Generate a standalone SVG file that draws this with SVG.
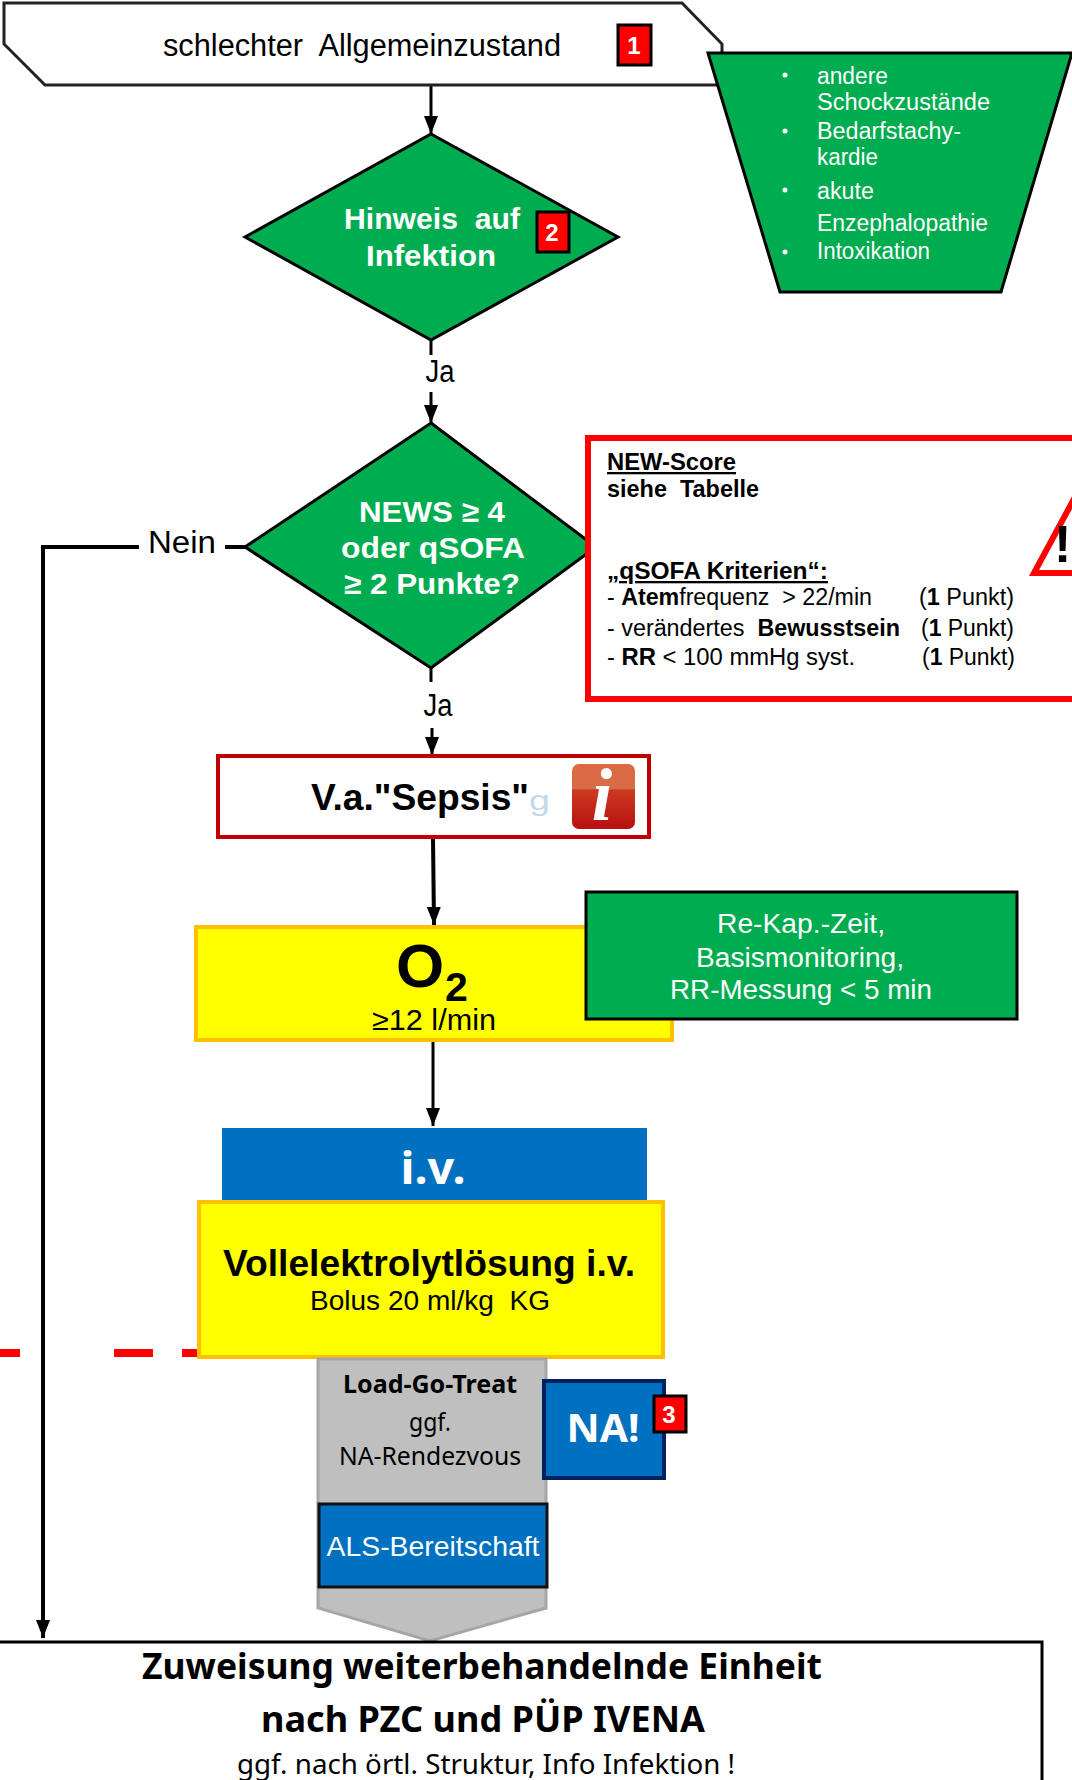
<svg xmlns="http://www.w3.org/2000/svg" width="1072" height="1780" viewBox="0 0 1072 1780">
<style>
text{font-family:"Liberation Sans",Arial,sans-serif;fill:#000}
.m{text-anchor:middle}
.b{font-weight:700}
.w{fill:#fff}
.c{font-family:"Noto Sans","Open Sans",sans-serif}
.green{fill:#00ac50;stroke:#000;stroke-width:3}
.badge{fill:#f00;stroke:#000;stroke-width:3}
.yellow{fill:#ff0;stroke:#ffc000;stroke-width:4}
.flow{fill:none;stroke:#000;stroke-width:3}
.flow4{fill:none;stroke:#000;stroke-width:4}
</style>
<defs>
<marker id="ah" markerUnits="userSpaceOnUse" markerWidth="20" markerHeight="16" refX="18" refY="8" orient="auto"><path d="M0 1L18 8L0 15Z" fill="#000"/></marker>
<linearGradient id="ig" x1="0" y1="0" x2="0" y2="1"><stop offset="0" stop-color="#db6a42"/><stop offset=".38" stop-color="#d96c48"/><stop offset=".4" stop-color="#cc3a20"/><stop offset="1" stop-color="#b81010"/></linearGradient>
</defs>

<g id="connectors">
<path class="flow" d="M431 85V134" marker-end="url(#ah)"/>
<path class="flow" d="M431 340V355"/>
<path class="flow" d="M431 392V423" marker-end="url(#ah)"/>
<path class="flow" d="M431 668V682"/>
<path class="flow" d="M432 728V755" marker-end="url(#ah)"/>
<path class="flow4" d="M433 838L434 925" marker-end="url(#ah)"/>
<path class="flow" d="M433 1041V1126" marker-end="url(#ah)"/>
<path class="flow4" d="M245 547H225M139 547H43V1638" marker-end="url(#ah)"/>
<path d="M0 1353H199" fill="none" stroke="#f00" stroke-width="8" stroke-dasharray="20 94 39 29 17 20"/>
</g>

<g id="n-start">
<path d="M4 3H682L722 44V85H45L4 44Z" fill="#fff" stroke="#222" stroke-width="3"/>
<text class="m" x="362" y="56" font-size="31" textLength="398" lengthAdjust="spacingAndGlyphs">schlechter&#160; Allgemeinzustand</text>
<rect class="badge" x="618" y="25" width="33" height="40"/>
<text class="m b w" x="634" y="54" font-size="24">1</text>
</g>

<g id="n-others">
<path class="green" d="M708 53H1072L1001 292H780Z"/>
<g font-size="23">
<circle cx="785" cy="75" r="2.5" fill="#fff"/><circle cx="785" cy="131" r="2.5" fill="#fff"/><circle cx="785" cy="190" r="2.5" fill="#fff"/><circle cx="785" cy="252" r="2.5" fill="#fff"/>
<text class="w" x="817" y="84" textLength="71" lengthAdjust="spacingAndGlyphs">andere</text>
<text class="w" x="817" y="110" textLength="173" lengthAdjust="spacingAndGlyphs">Schockzustände</text>
<text class="w" x="817" y="139" textLength="144" lengthAdjust="spacingAndGlyphs">Bedarfstachy-</text>
<text class="w" x="817" y="165" textLength="61" lengthAdjust="spacingAndGlyphs">kardie</text>
<text class="w" x="817" y="199" textLength="57" lengthAdjust="spacingAndGlyphs">akute</text>
<text class="w" x="817" y="231" textLength="171" lengthAdjust="spacingAndGlyphs">Enzephalopathie</text>
<text class="w" x="817" y="259" textLength="113" lengthAdjust="spacingAndGlyphs">Intoxikation</text>
</g>
</g>

<g id="n-infection">
<path class="green" d="M431 134L618 237L431 340L245 237Z"/>
<text class="m b w" x="432" y="229" font-size="30" textLength="176" lengthAdjust="spacingAndGlyphs">Hinweis&#160; auf</text>
<text class="m b w" x="431" y="266" font-size="30" textLength="130" lengthAdjust="spacingAndGlyphs">Infektion</text>
<rect class="badge" x="537" y="212" width="32" height="40"/>
<text class="m b w" x="552" y="241" font-size="24">2</text>
</g>

<text id="l-ja1" class="m" x="440" y="382" font-size="31" textLength="29" lengthAdjust="spacingAndGlyphs">Ja</text>

<g id="n-news">
<path class="green" d="M431 423L596 547L431 668L245 547Z"/>
<text class="m b w" x="432" y="522" font-size="30" textLength="146" lengthAdjust="spacingAndGlyphs">NEWS ≥ 4</text>
<text class="m b w" x="433" y="558" font-size="30" textLength="184" lengthAdjust="spacingAndGlyphs">oder qSOFA</text>
<text class="m b w" x="432" y="594" font-size="30" textLength="176" lengthAdjust="spacingAndGlyphs">≥ 2 Punkte?</text>
</g>

<g id="n-criteria">
<path d="M1075 438H588V699H1075" fill="#fff" stroke="#f00" stroke-width="6"/>
<path d="M1075 497L1034 573H1075" fill="#fff" stroke="#f00" stroke-width="6"/>
<text class="b" x="1054" y="562" font-size="52">!</text>
<g font-size="23">
<text class="b" x="607" y="470" text-decoration="underline" textLength="129" lengthAdjust="spacingAndGlyphs">NEW-Score</text>
<text class="b" x="607" y="497" textLength="152" lengthAdjust="spacingAndGlyphs">siehe&#160; Tabelle</text>
<text class="b" x="607" y="579" text-decoration="underline" textLength="221" lengthAdjust="spacingAndGlyphs">„qSOFA Kriterien“:</text>
<text x="607" y="605" textLength="265" lengthAdjust="spacingAndGlyphs">- <tspan class="b">Atem</tspan>frequenz&#160; &gt; 22/min</text>
<text x="919" y="605" textLength="95" lengthAdjust="spacingAndGlyphs">(<tspan class="b">1</tspan> Punkt)</text>
<text x="607" y="636" textLength="293" lengthAdjust="spacingAndGlyphs">- verändertes&#160; <tspan class="b">Bewusstsein</tspan></text>
<text x="921" y="636" textLength="93" lengthAdjust="spacingAndGlyphs">(<tspan class="b">1</tspan> Punkt)</text>
<text x="607" y="665" textLength="248" lengthAdjust="spacingAndGlyphs">- <tspan class="b">RR</tspan> &lt; 100 mmHg syst.</text>
<text x="922" y="665" textLength="93" lengthAdjust="spacingAndGlyphs">(<tspan class="b">1</tspan> Punkt)</text>
</g>
</g>

<text id="l-ja2" class="m" x="438" y="716" font-size="31" textLength="29" lengthAdjust="spacingAndGlyphs">Ja</text>
<text id="l-nein" class="m" x="182" y="553" font-size="31" textLength="68" lengthAdjust="spacingAndGlyphs">Nein</text>

<g id="n-sepsis">
<rect x="218" y="756" width="431" height="81" fill="#fff" stroke="#c00000" stroke-width="4"/>
<text class="b" x="311" y="810" font-size="36" textLength="218" lengthAdjust="spacingAndGlyphs">V.a."Sepsis"</text>
<text x="529" y="810" font-size="28" style="fill:#c4d8ea" textLength="21" lengthAdjust="spacingAndGlyphs">g</text>
<rect x="572" y="764" width="63" height="65" rx="7" fill="url(#ig)"/>
<text class="w" x="602" y="820" text-anchor="middle" font-size="74" style="font-family:'Liberation Serif',serif;font-weight:700;font-style:italic">i</text>
</g>

<g id="n-o2">
<rect class="yellow" x="196" y="927" width="476" height="113"/>
<text class="b" x="396" y="987" font-size="62">O</text>
<text class="b" x="445" y="1001" font-size="41">2</text>
<text class="m" x="434" y="1030" font-size="29" textLength="124" lengthAdjust="spacingAndGlyphs">≥12 l/min</text>
</g>

<g id="n-monitor">
<rect x="586" y="892" width="431" height="127" fill="#00ac50" stroke="#000" stroke-width="3"/>
<text class="m w" x="801" y="933" font-size="27" textLength="168" lengthAdjust="spacingAndGlyphs">Re-Kap.-Zeit,</text>
<text class="m w" x="800" y="967" font-size="27" textLength="208" lengthAdjust="spacingAndGlyphs">Basismonitoring,</text>
<text class="m w" x="801" y="999" font-size="27" textLength="262" lengthAdjust="spacingAndGlyphs">RR-Messung &lt; 5 min</text>
</g>

<g id="n-iv">
<rect x="222" y="1128" width="425" height="73" fill="#0070c0"/>
<text class="m b w c" x="433" y="1184" font-size="44" textLength="65" lengthAdjust="spacingAndGlyphs">i.v.</text>
</g>

<g id="n-fluid">
<rect class="yellow" x="199" y="1202" width="464" height="155"/>
<text class="m b" x="429" y="1276" font-size="37" textLength="412" lengthAdjust="spacingAndGlyphs">Vollelektrolytlösung i.v.</text>
<text class="m" x="430" y="1310" font-size="28" textLength="240" lengthAdjust="spacingAndGlyphs">Bolus 20 ml/kg&#160; KG</text>
</g>

<g id="n-transport">
<path d="M318 1359H546V1608L430 1641L318 1608Z" fill="#bfbfbf" stroke="#a6a6a6" stroke-width="3"/>
<text class="m b c" x="430" y="1393" font-size="25" textLength="174" lengthAdjust="spacingAndGlyphs">Load-Go-Treat</text>
<text class="m c" x="430" y="1431" font-size="25" textLength="42" lengthAdjust="spacingAndGlyphs">ggf.</text>
<text class="m c" x="430" y="1465" font-size="25" textLength="182" lengthAdjust="spacingAndGlyphs">NA-Rendezvous</text>
</g>

<g id="n-als">
<rect x="319" y="1504" width="228" height="83" fill="#0070c0" stroke="#111" stroke-width="3"/>
<text class="m w" x="433" y="1556" font-size="28" textLength="213" lengthAdjust="spacingAndGlyphs">ALS-Bereitschaft</text>
</g>

<g id="n-na">
<rect x="544" y="1381" width="120" height="97" fill="#0070c0" stroke="#002060" stroke-width="4"/>
<text class="m b w c" x="603" y="1442" font-size="40" textLength="73" lengthAdjust="spacingAndGlyphs">NA!</text>
<rect class="badge" x="654" y="1396" width="32" height="36"/>
<text class="m b w" x="669" y="1423" font-size="24">3</text>
</g>

<g id="n-assign">
<rect x="-3" y="1642" width="1045" height="142" fill="#fff" stroke="#000" stroke-width="3"/>
<text class="m b c" x="482" y="1679" font-size="36" textLength="680" lengthAdjust="spacingAndGlyphs">Zuweisung weiterbehandelnde Einheit</text>
<text class="m b c" x="483" y="1732" font-size="36" textLength="444" lengthAdjust="spacingAndGlyphs">nach PZC und PÜP IVENA</text>
<text class="m c" x="486" y="1774" font-size="28" textLength="498" lengthAdjust="spacingAndGlyphs">ggf. nach örtl. Struktur, Info Infektion !</text>
</g>
</svg>
